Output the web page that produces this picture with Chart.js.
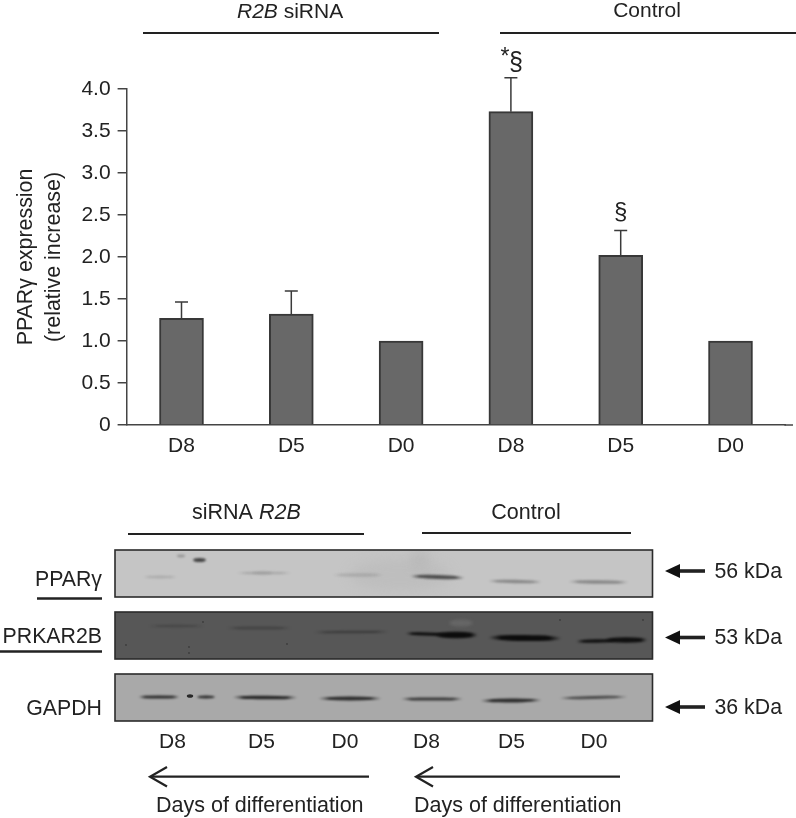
<!DOCTYPE html>
<html><head><meta charset="utf-8">
<style>html,body{margin:0;padding:0;background:#fff}canvas{display:block}</style>
<script src="https://cdn.jsdelivr.net/npm/chart.js@4"></script>
</head><body>
<canvas id="c" width="796" height="818"></canvas>
<script>
// ---- data ----
const categories = ['D8','D5','D0','D8','D5','D0'];
const expression = [1.27,1.32,1.0,3.73,2.02,1.0];
const errorUp = [0.195,0.275,0,0.405,0.295,0];
const marks = ['','','','*§','§',''];
const yTicks = [0,0.5,1,1.5,2,2.5,3,3.5,4];
const blotRows = ['PPARγ','PRKAR2B','GAPDH'];
const blotSizes = ['56 kDa','53 kDa','36 kDa'];
const blotLanes = ['D8','D5','D0','D8','D5','D0'];
const ppargBand = [0.14,0.16,0.13,0.7,0.36,0.36];
const prkarBand = [0.22,0.28,0.36,1,1,0.95];
const gapdhBand = [0.8,0.85,0.8,0.72,0.8,0.62];

// ---- layout of the blot ----
const FONT='"Liberation Sans", Arial, sans-serif';
const INK='#222';
const panels=[{y0:550,y1:597,fill:'#c5c5c5',band:'#1c1c1c'},
              {y0:612,y1:659,fill:'#575757',band:'#0c0c0c'},
              {y0:674,y1:721,fill:'#a9a9a9',band:'#0d0d0d'}];
const bandShapes=[
 [[[143,177,577,1.5,0]],[[236,292,573,1.4,0]],[[332,384,575,1.8,0]],[[410,465,577,2,.03]],[[488,542,581.5,1.7,.02]],[[568,629,582,1.7,.01]]],
 [[[148,205,626,1.2,0]],[[226,292,628,1.3,0]],[[313,390,632,1.3,-.01]],[[405,447,634,1.6,.03],[434,478,635,3.2,0]],[[488,562,638,3,.01]],[[576,617,641,1.8,-.02],[604,648,640,2.8,0]]],
 [[[138,180,697,1.6,0],[196,216,697,1.4,0]],[[232,298,697.5,1.8,0.005]],[[318,382,698.5,1.9,0]],[[400,464,699,1.6,0]],[[480,542,700.5,1.9,-.01]],[[559,628,697.5,1.5,-.02]]]
];
const laneX=[172.5,261.5,345,426.5,511.5,594];
const rowLabelY=[580,637,709];
const sizeY=[571,637.5,707];

function text(ctx,s,x,y,size,align,style){
  ctx.font=(style?style+' ':'')+size+'px '+FONT;
  ctx.textAlign=align||'center';ctx.textBaseline='middle';ctx.fillStyle=INK;ctx.fillText(s,x,y);
}
function rule(ctx,x0,y0,x1,y1,w){ctx.beginPath();ctx.moveTo(x0,y0);ctx.lineTo(x1,y1);ctx.lineWidth=w;ctx.strokeStyle=INK;ctx.stroke();}
function band(ctx,b,col,a){
  const [x0,x1,y,h,tilt]=b;
  ctx.save();ctx.globalAlpha=a;ctx.filter='blur(0.9px)';
  const g=ctx.createLinearGradient(x0,0,x1,0);
  g.addColorStop(0,'rgba(0,0,0,0)');g.addColorStop(.18,col);g.addColorStop(.82,col);g.addColorStop(1,'rgba(0,0,0,0)');
  ctx.fillStyle=g;
  ctx.beginPath();ctx.ellipse((x0+x1)/2,y,(x1-x0)/2,h,tilt,0,Math.PI*2);ctx.fill();ctx.restore();
}
function smudge(ctx,x,y,rx,ry,col,a,blur){
  ctx.save();ctx.globalAlpha=a;ctx.fillStyle=col;ctx.filter='blur('+blur+'px)';
  ctx.beginPath();ctx.ellipse(x,y,rx,ry,0,0,Math.PI*2);ctx.fill();ctx.restore();
}

const annotate={id:'annotate',
 afterDatasetsDraw(chart){
  const ctx=chart.ctx,x=chart.scales.x,y=chart.scales.y;
  ctx.save();
  // baseline overrun
  ctx.beginPath();ctx.moveTo(chart.chartArea.right-1,y.getPixelForValue(0));ctx.lineTo(793,y.getPixelForValue(0));
  ctx.lineWidth=1.5;ctx.strokeStyle='#444';ctx.stroke();
  // error bars and marks
  expression.forEach((v,i)=>{
    const cx=x.getPixelForValue(i);
    if(errorUp[i]>0){
      const t=y.getPixelForValue(v+errorUp[i]),b=y.getPixelForValue(v);
      ctx.beginPath();ctx.moveTo(cx,b);ctx.lineTo(cx,t);ctx.moveTo(cx-6.5,t);ctx.lineTo(cx+6.5,t);
      ctx.lineWidth=1.5;ctx.strokeStyle='#3a3a3a';ctx.stroke();
      if(marks[i]){
        if(marks[i].length>1){text(ctx,'*',cx-6,t-20,23);text(ctx,'§',cx+5,t-15,25);}
        else text(ctx,marks[i],cx,t-18,24);
      }
    }
  });
  // group headers of the bar chart
  ctx.font='italic 21px '+FONT;const w1=ctx.measureText('R2B').width;
  text(ctx,'R2B',237,12,21,'left','italic');text(ctx,' siRNA',237+w1,12,21,'left');
  text(ctx,'Control',647,11,21);
  rule(ctx,143,33,439,33,2.2);rule(ctx,500,33,796,33,2.2);

  // blot headers
  ctx.font='21.5px '+FONT;const w2=ctx.measureText('siRNA ').width;
  text(ctx,'siRNA ',192,513,21.5,'left');text(ctx,'R2B',192+w2,513,21.5,'left','italic');
  text(ctx,'Control',526,513,21.5);
  rule(ctx,128,534,364,534,2.2);rule(ctx,422,533,631,533,2.2);

  // blot panels
  const strengths=[ppargBand,prkarBand,gapdhBand];
  panels.forEach((p,r)=>{
    ctx.save();
    ctx.beginPath();ctx.rect(115,p.y0,537.5,p.y1-p.y0);ctx.clip();
    ctx.fillStyle=p.fill;ctx.fillRect(115,p.y0,537.5,p.y1-p.y0);
    if(r===0){
      smudge(ctx,400,575,50,16,'#b8b8b8',.5,6);smudge(ctx,420,560,10,10,'#b4b4b4',.5,5);
      smudge(ctx,199.5,560,6.5,2,'#222',.8,.8);smudge(ctx,181,556,4,1.4,'#555',.4,.8);smudge(ctx,262,573,10,1.4,'#555',.15,1);
    }
    if(r===1){
      smudge(ctx,461,623,12,3.5,'#6f6f6f',.6,1.5);
      [[126,645],[189,647],[189,653],[203,622],[287,644],[560,620],[643,620]].forEach(q=>smudge(ctx,q[0],q[1],.9,.9,'#2a2a2a',.6,.4));
    }
    if(r===2){smudge(ctx,190,696,3.2,1.8,'#111',.85,.6);}
    strengths[r].forEach((a,i)=>bandShapes[r][i].forEach(b=>band(ctx,b,p.band,a)));
    ctx.restore();
    ctx.strokeStyle='#2b2b2b';ctx.lineWidth=1.6;ctx.strokeRect(115,p.y0,537.5,p.y1-p.y0);
    text(ctx,blotRows[r],102,rowLabelY[r],21.3,'right');
    // size arrow
    const ay=sizeY[r];
    rule(ctx,675,ay,705,ay,3.6);
    ctx.beginPath();ctx.moveTo(665,ay);ctx.lineTo(680,ay-7);ctx.lineTo(680,ay+7);ctx.closePath();ctx.fillStyle='#111';ctx.fill();
    text(ctx,blotSizes[r],714.5,ay+1,21.3,'left');
  });
  rule(ctx,37,598.5,102,598.5,2.6);rule(ctx,0,651.5,102,651.5,2.6);
  blotLanes.forEach((l,i)=>text(ctx,l,laneX[i],742,21,'center'));

  // day arrows
  [[150,369],[416,620]].forEach(a=>{
    rule(ctx,a[0]+1,776.7,a[1],776.7,2.2);
    ctx.beginPath();ctx.moveTo(a[0]+17,767);ctx.lineTo(a[0],776.7);ctx.lineTo(a[0]+17,786.5);
    ctx.lineWidth=2.2;ctx.strokeStyle=INK;ctx.stroke();
  });
  text(ctx,'Days of differentiation',156,806,21.5,'left');
  text(ctx,'Days of differentiation',414,806,21.5,'left');
  ctx.restore();
 }};

Chart.defaults.font.family=FONT;
new Chart(document.getElementById('c'),{
 type:'bar',
 data:{labels:categories,datasets:[{data:expression,backgroundColor:'#686868',borderColor:'#383838',borderWidth:2,barThickness:44}]},
 options:{
  responsive:false,animation:false,devicePixelRatio:1,
  layout:{autoPadding:false,padding:{top:89,right:10.6,left:0,bottom:0}},
  plugins:{legend:{display:false},tooltip:{enabled:false},title:{display:false}},
  scales:{
   x:{offset:true,
      grid:{display:false},
      border:{display:true,color:'#444',width:1.5},
      ticks:{color:INK,font:{size:21},padding:1,maxRotation:0,autoSkip:false},
      afterFit(s){s.height=393;}},
   y:{min:0,max:4,
      afterBuildTicks(s){s.ticks=yTicks.map(v=>({value:v}));},
      grid:{drawOnChartArea:false,drawTicks:true,tickLength:9,color:'#444',lineWidth:1.5},
      border:{display:true,color:'#444',width:1.5},
      ticks:{color:INK,font:{size:21},padding:7,callback:v=>v===0?'0':v.toFixed(1)},
      title:{display:true,text:['PPARγ expression','(relative increase)'],color:INK,font:{size:21.4,lineHeight:1.27},padding:{top:13,bottom:0}},
      afterFit(s){s.width=126.6;}}
  }
 },
 plugins:[annotate]
});
</script>
</body></html>
